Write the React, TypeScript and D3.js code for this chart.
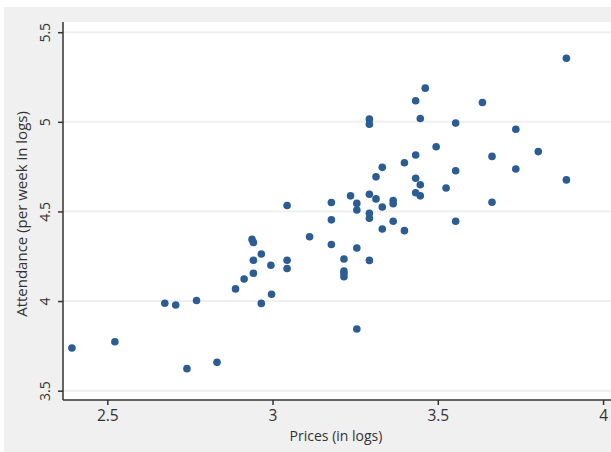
import React, { useEffect, useRef } from 'react';
import * as d3 from 'd3';

// log prices (x) and log attendance (y)
const prices = [
  2.393, 2.523, 2.741, 2.832, 3.255, 2.674, 2.707, 2.770, 2.966, 2.997,
  2.888, 2.914, 2.942, 2.995, 2.942, 3.044, 3.044, 2.966, 2.938, 2.942,
  3.112, 3.178, 3.255, 3.216, 3.293, 3.216, 3.216, 3.216, 3.044, 3.178,
  3.178, 3.236, 3.255, 3.255, 3.293, 3.293, 3.293, 3.313, 3.332, 3.365,
  3.365, 3.365, 3.332, 3.399, 3.433, 3.447, 3.525, 3.554, 3.664, 3.433,
  3.447, 3.313, 3.332, 3.399, 3.433, 3.495, 3.554, 3.664, 3.736, 3.804,
  3.889, 3.293, 3.293, 3.447, 3.554, 3.736, 3.433, 3.462, 3.635, 3.889,
];
const attendance = [
  3.738, 3.773, 3.623, 3.658, 3.844, 3.988, 3.978, 4.003, 3.987, 4.038,
  4.068, 4.123, 4.155, 4.200, 4.228, 4.228, 4.182, 4.263, 4.344, 4.327,
  4.359, 4.316, 4.296, 4.235, 4.227, 4.168, 4.154, 4.136, 4.533, 4.550,
  4.453, 4.587, 4.545, 4.508, 4.596, 4.490, 4.462, 4.570, 4.525, 4.561,
  4.543, 4.445, 4.402, 4.393, 4.604, 4.587, 4.631, 4.445, 4.551, 4.685,
  4.649, 4.693, 4.746, 4.772, 4.815, 4.861, 4.727, 4.807, 4.737, 4.834,
  4.676, 5.015, 4.987, 5.019, 4.993, 4.959, 5.118, 5.188, 5.108, 5.355,
];
const xTicks = [2.5, 3, 3.5, 4];
const yTicks = [3.5, 4, 4.5, 5, 5.5];

const App = () => {
  const svgRef = useRef<SVGSVGElement>(null);

  useEffect(() => {
    const width = 611;
    const height = 452;
    const svg = d3.select(svgRef.current);
    svg.selectAll('*').remove();

    const left = 63, right = 611, top = 22, bottom = 400;
    const font = '"Open Sans", "DejaVu Sans", sans-serif';

    // outer grey panel
    svg.append('rect')
      .attr('x', 4).attr('y', 7)
      .attr('width', width - 4).attr('height', height - 7)
      .attr('fill', '#f0f0f0');

    // plot region
    svg.append('rect')
      .attr('x', left).attr('y', top)
      .attr('width', right - left).attr('height', bottom - top)
      .attr('fill', '#ffffff');

    const x = d3.scaleLinear().domain([2.366, 4.024]).range([left, right]);
    const y = d3.scaleLinear().domain([3.448, 5.557]).range([bottom, top]);

    // gridlines
    svg.append('g')
      .selectAll('line')
      .data(yTicks)
      .enter()
      .append('line')
      .attr('x1', left).attr('x2', right)
      .attr('y1', d => y(d)).attr('y2', d => y(d))
      .attr('stroke', '#efefef')
      .attr('stroke-width', 2);

    // y axis
    const yAxis = svg.append('g')
      .attr('transform', `translate(${left},0)`)
      .call(d3.axisLeft(y).tickValues(yTicks).tickFormat(d3.format('')).tickSize(5).tickSizeOuter(0));
    yAxis.select('.domain').attr('stroke', '#333').attr('stroke-width', 1.5)
      .attr('d', `M0,${top}V${bottom}`);
    yAxis.selectAll('.tick line').attr('stroke', '#333').attr('stroke-width', 1.5);
    yAxis.selectAll('.tick text')
      .attr('font-family', font)
      .attr('font-size', 14)
      .attr('fill', '#333')
      .attr('text-anchor', 'middle')
      .attr('x', 0)
      .attr('transform', 'translate(-18,0) rotate(-90)')
      .attr('dy', '0.35em');

    // x axis
    const xAxis = svg.append('g')
      .attr('transform', `translate(0,${bottom})`)
      .call(d3.axisBottom(x).tickValues(xTicks).tickFormat(d3.format('')).tickSize(5).tickSizeOuter(0));
    xAxis.select('.domain').attr('stroke', '#333').attr('stroke-width', 1.5)
      .attr('d', `M${left},0H${right}`);
    xAxis.selectAll('.tick line').attr('stroke', '#333').attr('stroke-width', 1.5);
    xAxis.selectAll('.tick text')
      .attr('font-family', font)
      .attr('font-size', 15.5)
      .attr('fill', '#333')
      .attr('y', 10);

    // axis titles
    svg.append('text')
      .attr('x', 336).attr('y', 441)
      .attr('text-anchor', 'middle')
      .attr('font-family', font)
      .attr('font-size', 14)
      .attr('fill', '#333')
      .text('Prices (in logs)');

    svg.append('text')
      .attr('transform', 'translate(27,214) rotate(-90)')
      .attr('text-anchor', 'middle')
      .attr('font-family', font)
      .attr('font-size', 15)
      .attr('fill', '#333')
      .text('Attendance (per week in logs)');

    // points
    svg.append('g')
      .selectAll('circle')
      .data(prices.map((p, i) => ({ p, a: attendance[i] })))
      .enter()
      .append('circle')
      .attr('cx', d => x(d.p))
      .attr('cy', d => y(d.a))
      .attr('r', 3.8)
      .attr('fill', '#2c5c94');
  }, []);

  return (
    <svg
      ref={svgRef}
      width={611}
      height={452}
      style={{ position: 'absolute', left: 0, top: 0, background: '#fff' }}
    />
  );
};

export default App;
